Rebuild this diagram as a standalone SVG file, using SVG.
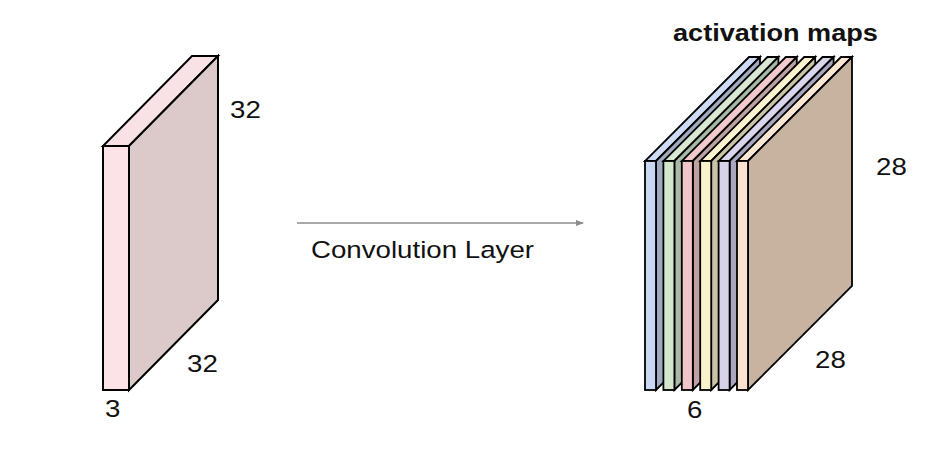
<svg xmlns="http://www.w3.org/2000/svg" width="925" height="458" viewBox="0 0 925 458">
<defs>
<style>
.edge{stroke:#000;stroke-width:2;stroke-linejoin:miter}
.slab{stroke:#000;stroke-width:1.8;stroke-linejoin:miter}
.lbl{font-family:"Liberation Sans",Arial,sans-serif;font-size:24.5px;fill:#111}
.ttl{font-family:"Liberation Sans",Arial,sans-serif;font-size:24px;font-weight:bold;fill:#111}
.conn{stroke:#8c8c8c;stroke-width:1.5;fill:none}
</style>
<marker id="arr" markerWidth="8" markerHeight="6" refX="7" refY="3" orient="auto" markerUnits="userSpaceOnUse">
<path d="M0,0 L8,3 L0,6 Z" fill="#8c8c8c"/>
</marker>
</defs>
<rect width="925" height="458" fill="#fff"/>

<g id="input-volume">
<polygon class="edge" points="103,146 129,146 218,56 192,56" fill="#f8e2e5"/>
<polygon class="edge" points="129,146 218,56 218,300 129,390" fill="#dccacb"/>
<rect class="edge" x="103" y="146" width="26" height="244" fill="#fbe3e7"/>
</g>

<g id="activation-maps">
<g id="map-1">
<polygon class="slab" points="645,161 656,161 760,57 749,57" fill="#cddbf5"/>
<polygon class="slab" points="656,161 760,57 760,286 656,390" fill="#9fa9bf"/>
<rect class="slab" x="645" y="161" width="11" height="229" fill="#c9d7f3"/>
</g>
<g id="map-2">
<polygon class="slab" points="663.4,161 674.4,161 778.4,57 767.4,57" fill="#d8e8d3"/>
<polygon class="slab" points="674.4,161 778.4,57 778.4,286 674.4,390" fill="#aab9a5"/>
<rect class="slab" x="663.4" y="161" width="11" height="229" fill="#d5e6cf"/>
</g>
<g id="map-3">
<polygon class="slab" points="681.8,161 692.8,161 796.8,57 785.8,57" fill="#f3cacc"/>
<polygon class="slab" points="692.8,161 796.8,57 796.8,286 692.8,390" fill="#bfa1a2"/>
<rect class="slab" x="681.8" y="161" width="11" height="229" fill="#f1c6c8"/>
</g>
<g id="map-4">
<polygon class="slab" points="700.2,161 711.2,161 815.2,57 804.2,57" fill="#fcf2cf"/>
<polygon class="slab" points="711.2,161 815.2,57 815.2,286 711.2,390" fill="#cac4a6"/>
<rect class="slab" x="700.2" y="161" width="11" height="229" fill="#fbf1cb"/>
</g>
<g id="map-5">
<polygon class="slab" points="718.6,161 729.6,161 833.6,57 822.6,57" fill="#dcd6ec"/>
<polygon class="slab" points="729.6,161 833.6,57 833.6,286 729.6,390" fill="#aaa6bf"/>
<rect class="slab" x="718.6" y="161" width="11" height="229" fill="#d9d3ea"/>
</g>
<g id="map-6">
<polygon class="slab" points="737,161 748,161 852,57 841,57" fill="#fde6d3"/>
<polygon class="slab" points="748,161 852,57 852,286 748,390" fill="#c8b3a1"/>
<rect class="slab" x="737" y="161" width="11" height="229" fill="#fde3cf"/>
</g>
</g>

<g id="connectors">
<line class="conn" x1="297" y1="223" x2="583" y2="223" marker-end="url(#arr)"/>
</g>

<g id="labels">
<text class="ttl" transform="translate(673,41) scale(1.13,1)">activation maps</text>
<text class="lbl" transform="translate(230,118) scale(1.13,1)">32</text>
<text class="lbl" transform="translate(187,372) scale(1.13,1)">32</text>
<text class="lbl" transform="translate(105,417) scale(1.13,1)">3</text>
<text class="lbl" transform="translate(311,258) scale(1.13,1)">Convolution Layer</text>
<text class="lbl" transform="translate(876,175) scale(1.13,1)">28</text>
<text class="lbl" transform="translate(815,368) scale(1.13,1)">28</text>
<text class="lbl" transform="translate(687,418) scale(1.13,1)">6</text>
</g>
</svg>
